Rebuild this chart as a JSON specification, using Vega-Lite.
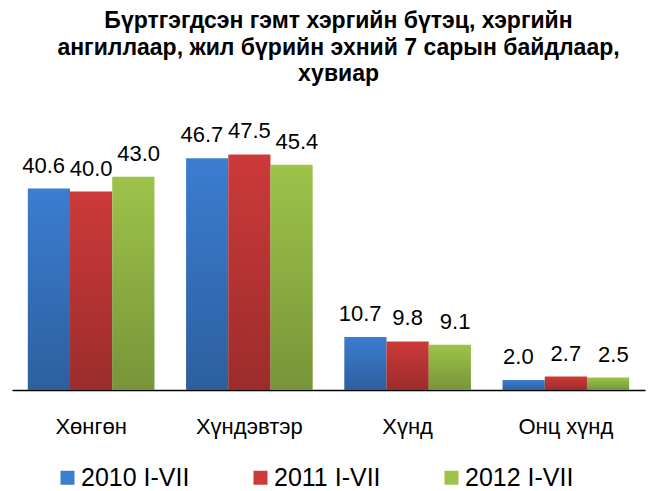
{
  "$schema": "https://vega.github.io/schema/vega-lite/v6.json",
  "width": 633,
  "height": 248,
  "autosize": "none",
  "padding": {"left": 12, "top": 142, "right": 11, "bottom": 101},
  "background": "white",
  "title": {
    "text": ["Бүртгэгдсэн гэмт хэргийн бүтэц, хэргийн", "ангиллаар, жил бүрийн эхний 7 сарын байдлаар,", "хувиар"],
    "font": "Liberation Sans",
    "fontSize": 23,
    "fontWeight": "bold",
    "color": "#000000",
    "anchor": "middle",
    "lineHeight": 26.7,
    "offset": 34,
    "dx": 10
  },
  "data": {
    "values": [
      {"cat": "Хөнгөн", "series": "2010 I-VII", "value": 40.6},
      {"cat": "Хөнгөн", "series": "2011 I-VII", "value": 40.0},
      {"cat": "Хөнгөн", "series": "2012 I-VII", "value": 43.0},
      {"cat": "Хүндэвтэр", "series": "2010 I-VII", "value": 46.7},
      {"cat": "Хүндэвтэр", "series": "2011 I-VII", "value": 47.5},
      {"cat": "Хүндэвтэр", "series": "2012 I-VII", "value": 45.4},
      {"cat": "Хүнд", "series": "2010 I-VII", "value": 10.7},
      {"cat": "Хүнд", "series": "2011 I-VII", "value": 9.8},
      {"cat": "Хүнд", "series": "2012 I-VII", "value": 9.1},
      {"cat": "Онц хүнд", "series": "2010 I-VII", "value": 2.0},
      {"cat": "Онц хүнд", "series": "2011 I-VII", "value": 2.7},
      {"cat": "Онц хүнд", "series": "2012 I-VII", "value": 2.5}
    ]
  },
  "encoding": {
    "x": {
      "field": "cat", "type": "nominal", "sort": null,
      "scale": {"paddingInner": 0.2, "paddingOuter": 0.1},
      "axis": {
        "title": null, "labelAngle": 0, "ticks": false, "grid": false,
        "domainColor": "#000000", "domainWidth": 1.5,
        "labelFont": "Liberation Sans", "labelFontSize": 22, "labelColor": "#000000",
        "labelPadding": 26
      }
    },
    "y": {"field": "value", "type": "quantitative", "scale": {"domain": [0, 50], "nice": false}, "axis": null}
  },
  "layer": [
    {
      "mark": {"type": "bar"},
      "encoding": {
        "xOffset": {"field": "series", "type": "nominal", "scale": {"domain": ["2010 I-VII", "2011 I-VII", "2012 I-VII"], "paddingInner": 0}},
        "color": {
          "field": "series", "type": "nominal",
          "scale": {"domain": ["2010 I-VII", "2011 I-VII", "2012 I-VII"], "range": ["#3b7dd0", "#cc3a39", "#9dc34a"]},
          "legend": {
            "title": null, "orient": "none", "direction": "horizontal",
            "legendX": 43, "legendY": 323,
            "symbolType": "square", "symbolSize": 196, "symbolStrokeWidth": 0,
            "labelFont": "Liberation Sans", "labelFontSize": 25, "labelColor": "#000000",
            "labelOffset": 1, "columnPadding": 58, "labelLimit": 300
          }
        }
      }
    },
    {
      "mark": {
        "type": "bar",
        "fill": {
          "gradient": "linear", "x1": 0, "y1": 0, "x2": 0, "y2": 1,
          "stops": [
            {"offset": 0, "color": "rgba(0,0,0,0)"},
            {"offset": 1, "color": "rgba(0,0,0,0.24)"}
          ]
        }
      },
      "encoding": {
        "xOffset": {"field": "series", "type": "nominal", "scale": {"domain": ["2010 I-VII", "2011 I-VII", "2012 I-VII"], "paddingInner": 0}}
      }
    },
    {
      "mark": {"type": "text", "baseline": "alphabetic", "dy": -16, "font": "Liberation Sans", "fontSize": 22, "color": "#000000"},
      "encoding": {
        "xOffset": {"field": "series", "type": "nominal", "scale": {"domain": ["2010 I-VII", "2011 I-VII", "2012 I-VII"], "paddingInner": 0, "range": [-8, 134.6]}},
        "text": {"field": "value", "type": "quantitative", "format": ".1f"}
      }
    }
  ],
  "resolve": {"scale": {"xOffset": "independent"}},
  "config": {"view": {"stroke": null}}
}
